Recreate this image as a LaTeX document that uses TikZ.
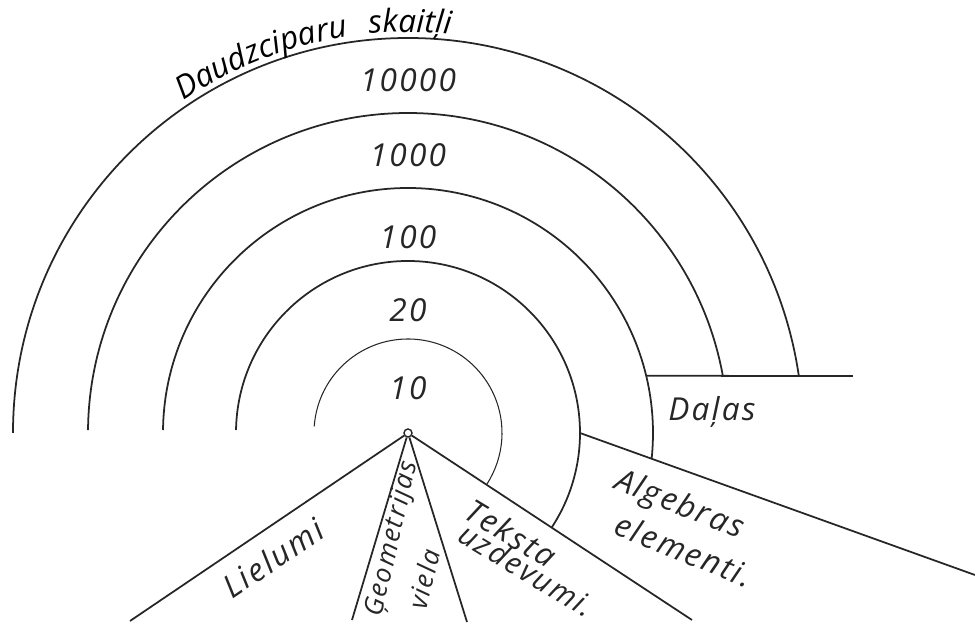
\documentclass[tikz,border=0pt]{standalone}
\usepackage{fontspec}
\newfontfamily\hand{Open Sans}[LetterSpace=7]
\usetikzlibrary{decorations.text}
\tikzset{hw/.style={font=\hand\itshape\fontsize{18}{22}\selectfont,inner sep=0pt},
  hws/.style={font=\hand\itshape\fontsize{15}{18}\selectfont,inner sep=0pt}}
\begin{document}
\begin{tikzpicture}[x=0.02cm,y=0.02cm,line width=1pt,black!85]
\useasboundingbox (-408,-195) rectangle (567,433);
\node[circle,draw,minimum size=0.16cm,inner sep=0pt,line width=.8pt] (hub) at (0,0) {};
\coordinate (liel) at (-278,-188); \coordinate (geoL) at (-56,-187);
\coordinate (geoR) at (59,-189); \coordinate (teks) at (284,-187);
\coordinate (alg0) at (0:172); \coordinate (alg1) at (567,-142);
\coordinate (dal0) at (13.5:245); \coordinate (dal1) at (445,57);
\draw[line width=.6pt] (176:94) arc[start angle=176,end angle=-33,radius=94];
\draw (179:172) arc[start angle=179,end angle=-33.4,radius=172];
\draw (179.3:245) arc[start angle=179.3,end angle=-6,radius=245];
\draw (179.5:320) arc[start angle=179.5,end angle=10.3,radius=320];
\draw (180:395) arc[start angle=180,end angle=8.3,radius=395];
\draw (hub) -- (liel); \draw (hub) -- (geoL); \draw (hub) -- (geoR); \draw (hub) -- (teks);
\draw (alg0) -- (alg1); \draw (dal0) -- (dal1);
\path[decorate,decoration={text along path,text align=center,
  text={|\hand\itshape\fontsize{18}{22}\selectfont|Daudzciparu{\ \ }skaitļi}}]
  (130:401) arc[start angle=130,end angle=78,radius=401];
\node[hw] (n10000) at (0,353) {10000}; \node[hw] (n1000) at (0,278) {1000};
\node[hw] (n100) at (0,196) {100}; \node[hw] (n20) at (0,123) {20};
\node[hw] (n10) at (0,45) {10};
\node[hw] (dalas) at (304,21) {Daļas};
\node[hw,rotate=-22] (algA) at (271,-73) {Algebras};
\node[hw,rotate=-22] (algB) at (276,-117) {elementi.};
\node[hw,rotate=-31] (teksA) at (103,-100) {Teksta};
\node[hw,rotate=-31,font=\hand\itshape\fontsize{17}{20}\selectfont] (teksB) at (119,-137) {uzdevumi.};
\node[hws,rotate=77] (geoA) at (-15,-106) {Ģeometrijas};
\node[hws,rotate=77] (geoB) at (16,-146) {viela};
\node[hw,rotate=34] (lielumi) at (-135,-125) {Lielumi};
\end{tikzpicture}
\end{document}
